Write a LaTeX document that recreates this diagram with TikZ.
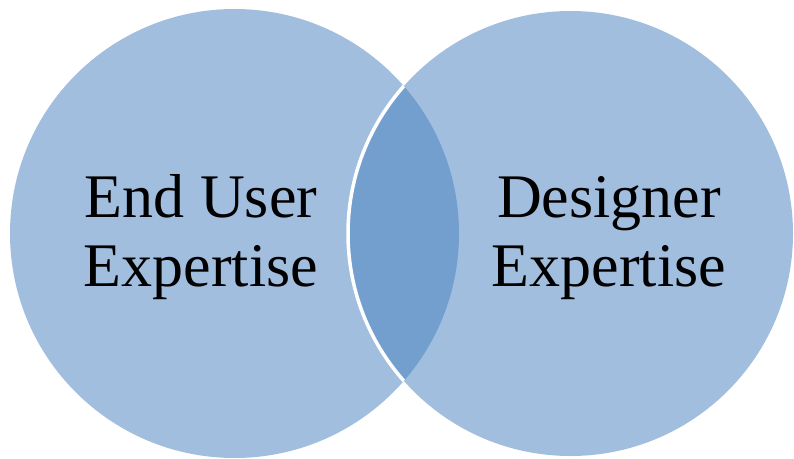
\documentclass[tikz,border=0pt]{standalone}
\usepackage{fontspec}
\setmainfont{Liberation Serif}
\definecolor{circfill}{RGB}{161,190,222}
\definecolor{lensfill}{RGB}{114,159,206}
\tikzset{
  lbl/.style={anchor=base, inner sep=0pt, text=black, font=\fontsize{62}{69}\selectfont}
}
\begin{document}
\begin{tikzpicture}[x=1pt,y=-1pt]
\useasboundingbox (0,0) rectangle (794,458);
\coordinate (cl) at (234.5,233.5);
\coordinate (cr) at (570.5,233.5);
% circles
\fill[circfill] (cl) circle[radius=224.5pt];
\fill[circfill] (cr) circle[radius=222.5pt];
% overlap
\begin{scope}
  \clip (cl) circle[radius=224.5pt];
  \fill[lensfill] (cr) circle[radius=222.5pt];
  \draw[white, line width=3.5pt] (cr) circle[radius=222.5pt];
\end{scope}
% labels
\node[lbl] (l1) at (201,217) {End User};
\node[lbl] (l2) at (201,286) {Expertise};
\node[lbl] (r1) at (609,217) {Designer};
\node[lbl] (r2) at (609,286) {Expertise};
\end{tikzpicture}
\end{document}
